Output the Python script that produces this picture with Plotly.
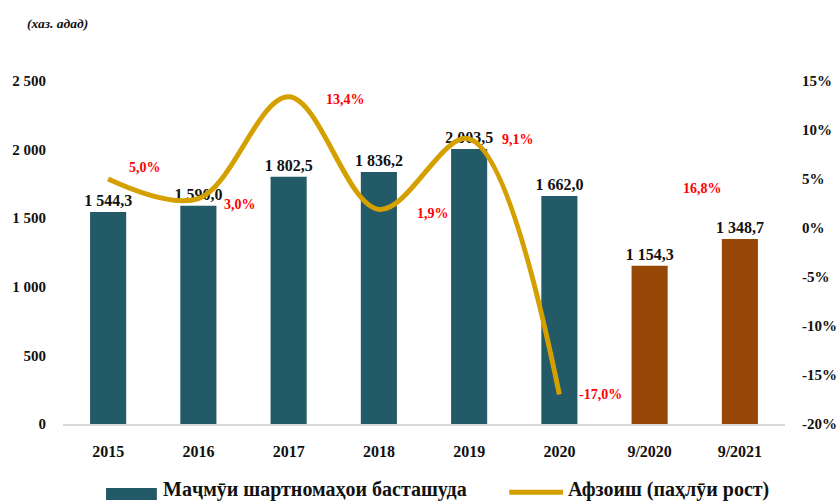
import plotly.graph_objects as go

categories = ["2015", "2016", "2017", "2018", "2019", "2020", "9/2020", "9/2021"]
contracts = [1544.3, 1590.0, 1802.5, 1836.2, 2003.5, 1662.0, 1154.3, 1348.7]
growth_years = ["2015", "2016", "2017", "2018", "2019", "2020"]
growth = [5.0, 3.0, 13.4, 1.9, 9.1, -17.0]
growth_9m = 16.8
left_ticks = [0, 500, 1000, 1500, 2000, 2500]
right_ticks = [-20, -15, -10, -5, 0, 5, 10, 15]
bar_name = "Маҷмӯи шартномаҳои басташуда"
line_name = "Афзоиш (паҳлӯи рост)"
unit_label = "(хаз. адад)"

TEAL = "#225A67"
BROWN = "#974807"
GOLD = "#D4A000"
FONT = "Liberation Serif"
INK = "#111111"

def fmt_num(v):
    return f"{v:,.1f}".replace(",", " ").replace(".", ",")

def fmt_pct(v):
    return f"{v:.1f}%".replace(".", ",")

bar_colors = [TEAL] * 6 + [BROWN] * 2

fig = go.Figure()
fig.add_trace(go.Bar(
    x=categories, y=contracts,
    marker=dict(color=bar_colors, line=dict(width=0)),
    text=[fmt_num(v) for v in contracts],
    textposition="outside",
    constraintext="none",
    textfont=dict(family=FONT, size=16, color=INK, weight="bold"),
    cliponaxis=False,
    name=bar_name, showlegend=False,
    hoverinfo="skip",
    yaxis="y",
))
fig.add_trace(go.Scatter(
    x=growth_years, y=growth,
    mode="lines",
    line=dict(color=GOLD, width=5, shape="spline", smoothing=1.0),
    name=line_name, showlegend=False,
    hoverinfo="skip",
    yaxis="y2",
))

# growth labels (offsets in px)
label_shifts = [(37, 12), (42, -6), (57, -3), (54, -4), (49, -1), (41, 0)]
for cat, val, (dx, dy) in zip(growth_years, growth, label_shifts):
    fig.add_annotation(x=categories.index(cat), y=val, xref="x", yref="y2",
                       text=fmt_pct(val), showarrow=False,
                       xshift=dx, yshift=dy,
                       font=dict(family=FONT, size=14, color="#FF0000", weight="bold"))
fig.add_annotation(x=len(categories) - 1, y=contracts[-1], xref="x", yref="y",
                   text=fmt_pct(growth_9m), showarrow=False, xshift=-37, yshift=50,
                   font=dict(family=FONT, size=14, color="#FF0000", weight="bold"))

# unit label
fig.add_annotation(x=-0.052, y=1.169, xref="paper", yref="paper",
                   xanchor="left", yanchor="middle",
                   text=f"<b><i>{unit_label}</i></b>", showarrow=False,
                   font=dict(family=FONT, size=13.5, color=INK))

# custom legend
fig.add_shape(type="rect", xref="paper", yref="paper",
              x0=0.0596, x1=0.130, y0=-0.2216, y1=-0.1866,
              fillcolor=TEAL, line=dict(width=0))
fig.add_annotation(x=0.136, y=-0.19, xref="paper", yref="paper",
                   xanchor="left", yanchor="middle", showarrow=False,
                   text=bar_name,
                   font=dict(family=FONT, size=20, color=INK, weight="bold"))
fig.add_shape(type="line", xref="paper", yref="paper",
              x0=0.618, x1=0.6925, y0=-0.199, y1=-0.199,
              line=dict(color=GOLD, width=5))
fig.add_annotation(x=0.696, y=-0.19, xref="paper", yref="paper",
                   xanchor="left", yanchor="middle", showarrow=False,
                   text=line_name,
                   font=dict(family=FONT, size=20, color=INK, weight="bold"))

fig.update_layout(
    width=838, height=501,
    margin=dict(l=63, r=53, t=81, b=77, autoexpand=False),
    paper_bgcolor="white", plot_bgcolor="white",
    bargap=0.6,
    showlegend=False,
    hovermode=False,
    font=dict(family=FONT, size=15, color=INK),
    xaxis=dict(type="category", range=[-0.5, len(categories) - 0.5], autorange=False,
               showgrid=False, showline=True, linecolor="#D9D9D9",
               linewidth=1.5, ticks="", ticklabelstandoff=12, automargin=False,
               tickfont=dict(family=FONT, size=16, color=INK, weight="bold")),
    yaxis=dict(range=[0, 2500], autorange=False, tickvals=left_ticks,
               ticktext=[fmt_num(v).replace(",0", "") for v in left_ticks],
               showgrid=False, zeroline=False, showline=False, ticks="",
               ticklabelstandoff=16, automargin=False,
               tickfont=dict(family=FONT, size=15, color=INK, weight="bold")),
    yaxis2=dict(range=[-20, 15], autorange=False, overlaying="y", side="right",
                tickvals=right_ticks,
                ticktext=[f"{v}%" for v in right_ticks],
                showgrid=False, zeroline=False, showline=False, ticks="",
                ticklabelstandoff=16, automargin=False,
                tickfont=dict(family=FONT, size=15, color=INK, weight="bold")),
)

fig.write_html("out.html",
               config={"displayModeBar": False},
               post_script="document.body.style.margin='0';document.body.style.overflow='hidden';")
